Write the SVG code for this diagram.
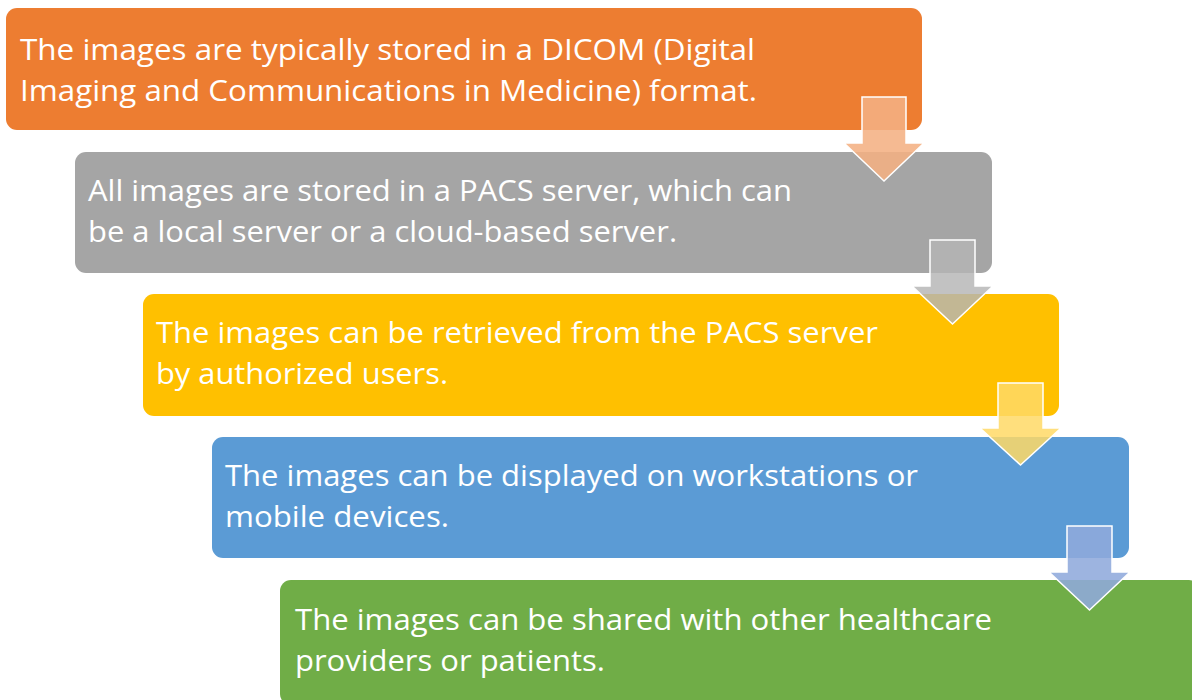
<svg xmlns="http://www.w3.org/2000/svg" width="1192" height="700" viewBox="0 0 1192 700">
<style>
.box{stroke:none}
.t{font-family:"Open Sans","Liberation Sans",sans-serif;font-size:29px;fill:#ffffff}
.arr{stroke:#ffffff;stroke-width:1.5;stroke-linejoin:miter}
</style>
<rect width="1192" height="700" fill="#ffffff"/>
<g id="node1">
<rect class="box" x="6" y="8" width="916" height="122" rx="11" fill="#ED7D31"/>
<text class="t" x="20" y="60" textLength="735" lengthAdjust="spacingAndGlyphs">The images are typically stored in a DICOM (Digital</text>
<text class="t" x="20" y="101" textLength="737" lengthAdjust="spacingAndGlyphs">Imaging and Communications in Medicine) format.</text>
</g>
<g id="node2">
<rect class="box" x="75" y="152" width="917" height="121" rx="11" fill="#A5A5A5"/>
<text class="t" x="88" y="201" textLength="704" lengthAdjust="spacingAndGlyphs">All images are stored in a PACS server, which can</text>
<text class="t" x="88" y="242" textLength="589" lengthAdjust="spacingAndGlyphs">be a local server or a cloud-based server.</text>
</g>
<g id="node3">
<rect class="box" x="143" y="294" width="916" height="122" rx="11" fill="#FFC000"/>
<text class="t" x="156" y="343" textLength="722" lengthAdjust="spacingAndGlyphs">The images can be retrieved from the PACS server</text>
<text class="t" x="156" y="384" textLength="292" lengthAdjust="spacingAndGlyphs">by authorized users.</text>
</g>
<g id="node4">
<rect class="box" x="212" y="437" width="917" height="121" rx="11" fill="#5B9BD5"/>
<text class="t" x="225" y="486" textLength="693" lengthAdjust="spacingAndGlyphs">The images can be displayed on workstations or</text>
<text class="t" x="225" y="527" textLength="224" lengthAdjust="spacingAndGlyphs">mobile devices.</text>
</g>
<g id="node5">
<rect class="box" x="280" y="580" width="920" height="125" rx="11" fill="#70AD47"/>
<text class="t" x="295" y="630" textLength="697" lengthAdjust="spacingAndGlyphs">The images can be shared with other healthcare</text>
<text class="t" x="295" y="671" textLength="310" lengthAdjust="spacingAndGlyphs">providers or patients.</text>
</g>
<g id="connectors">
<polygon class="arr" fill="#F4B183" fill-opacity="0.88" points="862,97 906,97 906,143 924,143 884,181 844,143 862,143"/>
<polygon class="arr" fill="#B4B4B4" fill-opacity="0.82" points="930,240 975,240 975,286 993,286 952.5,324 912,286 930,286"/>
<polygon class="arr" fill="#FFD966" fill-opacity="0.85" points="998,383 1043,383 1043,428 1061,428 1020.5,465 980,428 998,428"/>
<polygon class="arr" fill="#8FAADC" fill-opacity="0.88" points="1067,526 1112,526 1112,572 1130,572 1089.5,610 1049,572 1067,572"/>
</g>
</svg>
